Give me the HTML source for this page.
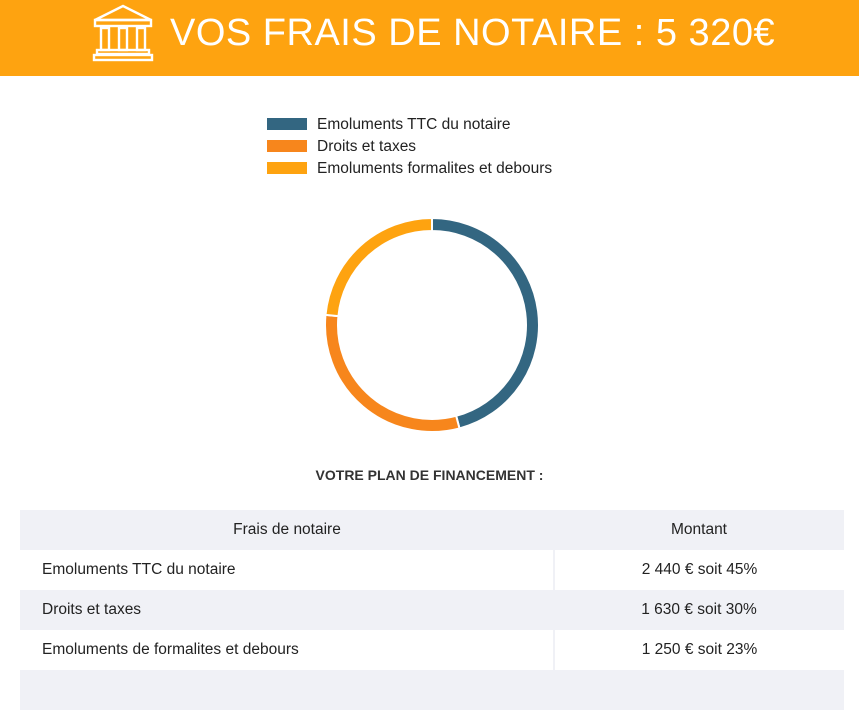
<!DOCTYPE html>
<html><head><meta charset="utf-8"><style>
body{margin:0;width:859px;height:679px;overflow:hidden;background:#fff;font-family:"Liberation Sans",sans-serif;color:#222;position:relative}
#hdr{position:absolute;left:0;top:0;width:859px;height:76px;background:#fea310}
#title{position:absolute;left:170px;top:12px;font-size:38px;color:#fff;letter-spacing:0.5px}
.leg{position:absolute;left:267px;font-size:15.5px;color:#222}
.leg span{display:inline-block;width:40px;height:12px;vertical-align:-1px;margin-right:10px}
#plan{position:absolute;left:0;width:859px;top:467px;text-align:center;font-weight:bold;font-size:14px;color:#333}
table{position:absolute;left:20px;top:510px;width:824px;border-collapse:collapse;font-size:15.5px}
td{height:40px;padding:0;border:0}
tr.g td{background:#f0f1f6}
tr.w td{background:#fff}
tr.w td.c1{border-right:2px solid #f0f1f6}
td.c1{padding-left:22px;width:511px}
td.c2{text-align:center}
th{height:40px;background:#f0f1f6;font-weight:normal;padding:0}
</style></head><body>
<div id="hdr">
<svg style="position:absolute;left:92px;top:4px" width="62" height="58" viewBox="0 0 62 58" fill="none" stroke="#fff" stroke-width="2.4">
<path d="M3 16 L31 2 L59 16 Z"/><rect x="3" y="16" width="56" height="6"/>
<rect x="9" y="24" width="8" height="22"/><rect x="27" y="24" width="8" height="22"/><rect x="45" y="24" width="8" height="22"/>
<rect x="5" y="46" width="52" height="4"/><rect x="2" y="51" width="58" height="5"/></svg>
<div id="title">VOS FRAIS DE NOTAIRE : 5 320€</div>
</div>
<div class="leg" style="top:116px"><span style="background:#336681"></span>Emoluments TTC du notaire</div>
<div class="leg" style="top:138px"><span style="background:#f7861c"></span>Droits et taxes</div>
<div class="leg" style="top:160px"><span style="background:#fea310"></span>Emoluments formalites et debours</div>
<svg id="donut" style="position:absolute;left:0;top:0" width="859" height="679"></svg>
<div id="plan">VOTRE PLAN DE FINANCEMENT :</div>
<table>
<tr><th>Frais de notaire</th><th>Montant</th></tr>
<tr class="w"><td class="c1">Emoluments TTC du notaire</td><td class="c2">2 440 € soit 45%</td></tr>
<tr class="g"><td class="c1">Droits et taxes</td><td class="c2">1 630 € soit 30%</td></tr>
<tr class="w"><td class="c1">Emoluments de formalites et debours</td><td class="c2">1 250 € soit 23%</td></tr>
<tr class="g"><td class="c1"></td><td class="c2"></td></tr>
</table>
<script>
const categories=["Emoluments TTC du notaire","Droits et taxes","Emoluments formalites et debours"];
const values=[2440,1630,1250];
const colors=["#336681","#f7861c","#fea310"];
const svg=document.getElementById('donut');
const cx=432,cy=325,ro=107,ri=94;
const total=values.reduce((a,b)=>a+b,0);
let a0=-Math.PI/2;
function pt(r,a){return [cx+r*Math.cos(a),cy+r*Math.sin(a)];}
values.forEach((v,i)=>{
  const a1=a0+v/total*2*Math.PI;
  const large=(a1-a0)>Math.PI?1:0;
  const p1=pt(ro,a0),p2=pt(ro,a1),p3=pt(ri,a1),p4=pt(ri,a0);
  const p=document.createElementNS('http://www.w3.org/2000/svg','path');
  p.setAttribute('d',`M${p1} A${ro},${ro} 0 ${large} 1 ${p2} L${p3} A${ri},${ri} 0 ${large} 0 ${p4} Z`);
  p.setAttribute('fill',colors[i]);p.setAttribute('stroke','#fff');p.setAttribute('stroke-width','2');
  
  
  svg.appendChild(p);
  a0=a1;
});
</script>
</body></html>
